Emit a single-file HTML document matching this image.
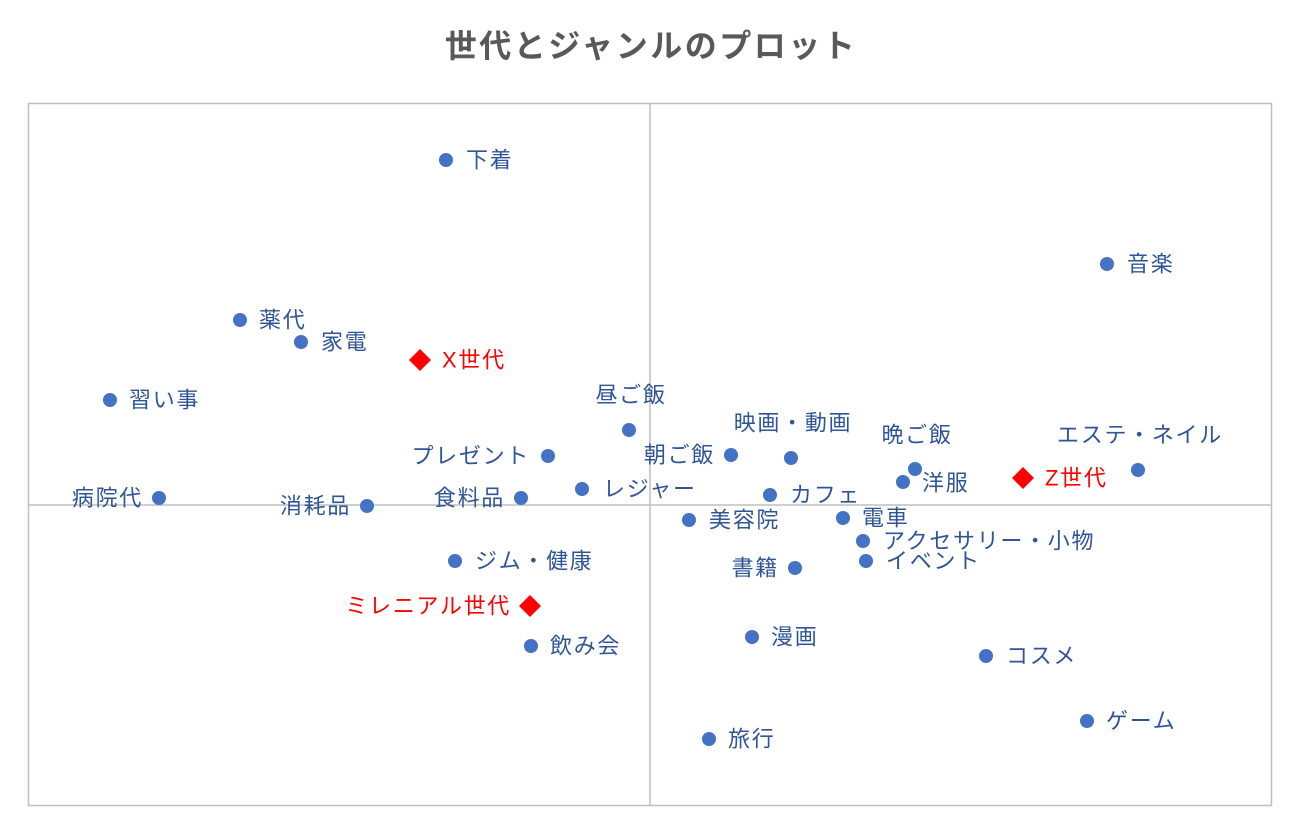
<!DOCTYPE html>
<html><head><meta charset="utf-8"><style>
body{margin:0;background:#fff}
svg{display:block;font-family:"Liberation Sans","Noto Sans CJK JP",sans-serif}
.l{fill:#2F5597;font-size:22px;letter-spacing:1.7px;dominant-baseline:central}
.r{fill:#FF0000;font-size:22px;letter-spacing:1.7px;dominant-baseline:central}
.e{text-anchor:end}
.m{text-anchor:middle}
</style></head><body>
<svg width="1300" height="832" viewBox="0 0 1300 832">
<rect width="1300" height="832" fill="#fff"/>
<text x="651" y="46" text-anchor="middle" dominant-baseline="central" font-size="32" letter-spacing="2.5" font-weight="bold" fill="#595959">世代とジャンルのプロット</text>
<rect x="28.5" y="103.5" width="1243" height="702" fill="none" stroke="#BFBFBF" stroke-width="1.5"/>
<line x1="650" y1="103" x2="650" y2="806" stroke="#BFBFBF" stroke-width="1.5"/>
<line x1="28" y1="505" x2="1272" y2="505" stroke="#BFBFBF" stroke-width="1.5"/>
<g fill="#4472C4">
<circle cx="446" cy="160" r="7"/><circle cx="1107" cy="264" r="7"/><circle cx="240" cy="320" r="7"/>
<circle cx="301" cy="342" r="7"/><circle cx="110" cy="400" r="7"/><circle cx="629" cy="430" r="7"/>
<circle cx="791" cy="458" r="7"/><circle cx="915" cy="469" r="7"/><circle cx="1138" cy="470" r="7"/>
<circle cx="548" cy="456" r="7"/><circle cx="731" cy="455" r="7"/><circle cx="903" cy="482" r="7"/>
<circle cx="582" cy="489" r="7"/><circle cx="770" cy="495" r="7"/><circle cx="159" cy="498" r="7"/>
<circle cx="367" cy="506" r="7"/><circle cx="521" cy="498" r="7"/><circle cx="689" cy="520" r="7"/>
<circle cx="843" cy="518" r="7"/><circle cx="863" cy="541" r="7"/><circle cx="866" cy="561" r="7"/>
<circle cx="455" cy="561" r="7"/><circle cx="795" cy="568" r="7"/><circle cx="531" cy="646" r="7"/>
<circle cx="752" cy="637" r="7"/><circle cx="986" cy="656" r="7"/><circle cx="1087" cy="721" r="7"/>
<circle cx="709" cy="739" r="7"/>
</g>
<g fill="#FF0000">
<polygon points="420,349 431,360 420,371 409,360"/>
<polygon points="1023,467 1034,478 1023,489 1012,478"/>
<polygon points="530,595 541,606 530,617 519,606"/>
</g>
<text class="l" x="466" y="160">下着</text>
<text class="l" x="1127" y="264">音楽</text>
<text class="l" x="259" y="320">薬代</text>
<text class="l" x="321" y="342">家電</text>
<text class="r" x="442" y="360">X世代</text>
<text class="l" x="129" y="400">習い事</text>
<text class="l m" x="631" y="395">昼ご飯</text>
<text class="l m" x="793" y="423">映画・動画</text>
<text class="l m" x="917" y="435">晩ご飯</text>
<text class="l m" x="1140" y="435">エステ・ネイル</text>
<text class="l e" x="530" y="456">プレゼント</text>
<text class="l e" x="715" y="455">朝ご飯</text>
<text class="l" x="922" y="483">洋服</text>
<text class="r" x="1045" y="478">Z世代</text>
<text class="l" x="603" y="489">レジャー</text>
<text class="l" x="790" y="495">カフェ</text>
<text class="l e" x="143" y="498">病院代</text>
<text class="l e" x="351" y="506">消耗品</text>
<text class="l e" x="505" y="498">食料品</text>
<text class="l" x="709" y="520">美容院</text>
<text class="l" x="862" y="518">電車</text>
<text class="l" x="883" y="541">アクセサリー・小物</text>
<text class="l" x="886" y="561">イベント</text>
<text class="l" x="475" y="561">ジム・健康</text>
<text class="l e" x="779" y="568">書籍</text>
<text class="r e" x="511" y="606">ミレニアル世代</text>
<text class="l" x="550" y="646">飲み会</text>
<text class="l" x="771" y="637">漫画</text>
<text class="l" x="1006" y="656">コスメ</text>
<text class="l" x="1106" y="721">ゲーム</text>
<text class="l" x="728" y="739">旅行</text>
</svg>
</body></html>
